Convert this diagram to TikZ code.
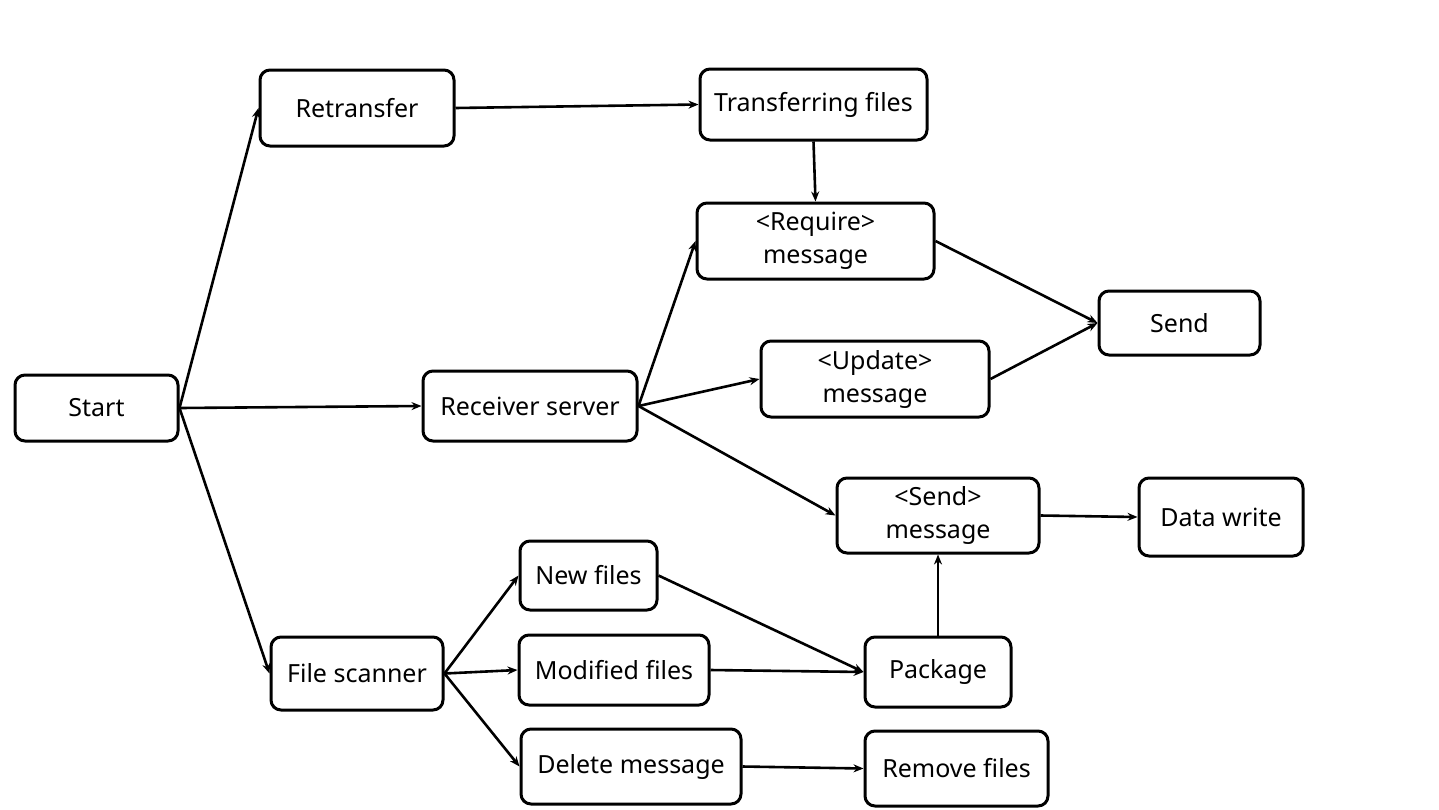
\documentclass[tikz,border=0pt]{standalone}
\usepackage{fontspec}
\setmainfont{Noto Sans}
\usetikzlibrary{arrows.meta}
\begin{document}
\begin{tikzpicture}[x=0.5pt,y=-0.5pt,
  box/.style={draw=black, line width=1.5pt, rounded corners=5pt, align=center,
    inner sep=0pt, font=\fontsize{12.5}{16.5}\selectfont},
  arr/.style={line width=1.3pt, -{Stealth[length=5pt,width=4pt]}}]
\useasboundingbox (0,0) rectangle (1439,809);
\node[box, minimum width=81.5pt, minimum height=33pt] (start) at (96.5,408) {Start};
\node[box, minimum width=97pt, minimum height=38pt] (retr) at (357,108) {Retransfer};
\node[box, minimum width=113.5pt, minimum height=35.5pt] (trans) at (813.5,104.5) {Transferring files};
\node[box, minimum width=118.5pt, minimum height=38pt] (req) at (815.5,241) {<Require>\\message};
\node[box, minimum width=80.5pt, minimum height=32pt] (send) at (1179.5,323) {Send};
\node[box, minimum width=114pt, minimum height=38pt] (upd) at (875,379) {<Update>\\message};
\node[box, minimum width=107pt, minimum height=35pt] (recv) at (530,406) {Receiver server};
\node[box, minimum width=101pt, minimum height=37.5pt] (sendmsg) at (938,515.5) {<Send>\\message};
\node[box, minimum width=82pt, minimum height=39pt] (dw) at (1221,517) {Data write};
\node[box, minimum width=68.5pt, minimum height=34.5pt] (new) at (588.5,575.5) {New files};
\node[box, minimum width=95pt, minimum height=35pt] (mod) at (614,670) {Modified files};
\node[box, minimum width=73pt, minimum height=35pt] (pkg) at (938,672) {Package};
\node[box, minimum width=86pt, minimum height=36.5pt] (scan) at (357,673.5) {File scanner};
\node[box, minimum width=110pt, minimum height=37.5pt] (del) at (631,766.5) {Delete message};
\node[box, minimum width=91.5pt, minimum height=37.5pt] (rem) at (956.5,768.5) {Remove files};
\draw[arr] (start.east) -- (retr.west);
\draw[arr] (start.east) -- (recv.west);
\draw[arr] (start.east) -- (scan.west);
\draw[arr] (retr.east) -- (trans.west);
\draw[arr] (trans.south) -- (req.north);
\draw[arr] (recv.east) -- (req.west);
\draw[arr] (recv.east) -- (upd.west);
\draw[arr] (recv.east) -- (sendmsg.west);
\draw[arr] (req.east) -- (send.west);
\draw[arr] (upd.east) -- (send.west);
\draw[arr] (sendmsg.east) -- (dw.west);
\draw[arr] (scan.east) -- (new.west);
\draw[arr] (scan.east) -- (mod.west);
\draw[arr] (scan.east) -- (del.west);
\draw[arr] (new.east) -- (pkg.west);
\draw[arr] (mod.east) -- (pkg.west);
\draw[arr] (pkg.north) -- (sendmsg.south);
\draw[arr] (del.east) -- (rem.west);
\end{tikzpicture}
\end{document}
